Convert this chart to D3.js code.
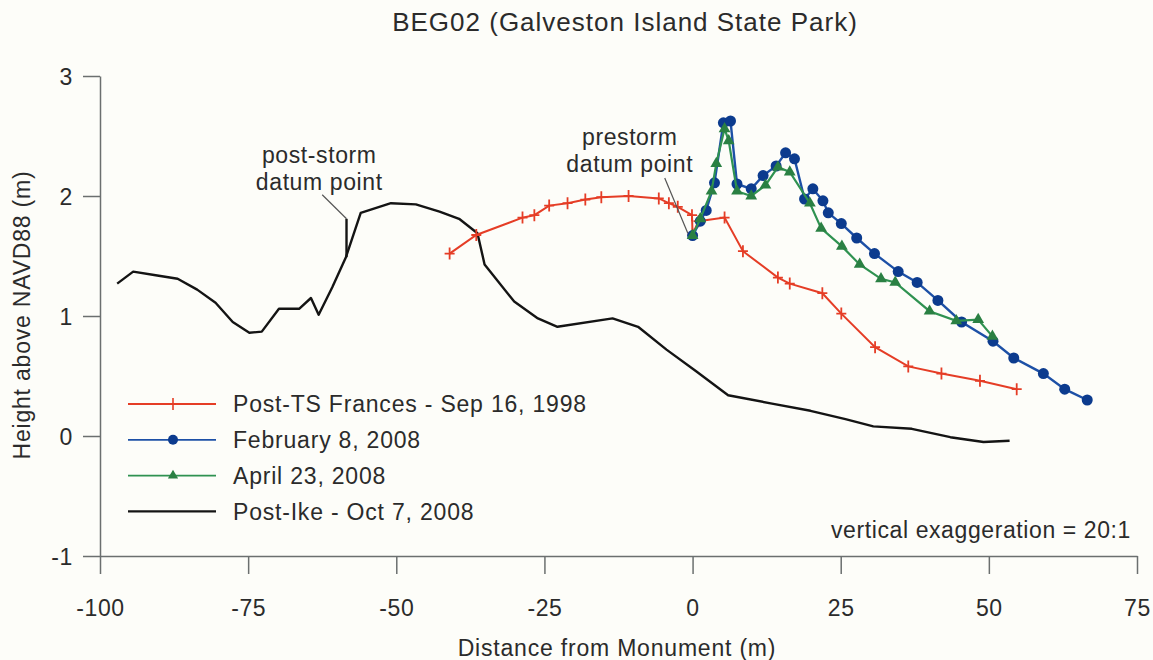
<!DOCTYPE html>
<html>
<head>
<meta charset="utf-8">
<script src="https://cdn.jsdelivr.net/npm/d3@7"></script>
<style>
  body { margin: 0; background: #fdfdf9; }
  svg text { font-family: "Liberation Sans", Arial, Helvetica, sans-serif; fill: #2b2b2b; }
</style>
</head>
<body>
<svg id="chart"></svg>
<script>
(function() {

// Post-TS Frances - Sep 16, 1998
const francesX = [-41.0, -36.5, -28.7, -26.7, -24.2, -21.1, -18.1, -15.4, -10.8, -5.7, -4.0, -2.5, -0.1, 0, 1.0, 5.4, 8.5, 14.4, 16.4, 21.9, 25.1, 30.8, 36.4, 42.0, 48.5, 54.7];
const francesY = [1.52, 1.675, 1.82, 1.84, 1.92, 1.94, 1.97, 1.99, 2.0, 1.98, 1.94, 1.91, 1.84, 1.68, 1.79, 1.82, 1.54, 1.32, 1.27, 1.19, 1.02, 0.74, 0.58, 0.52, 0.46, 0.39];

// February 8, 2008
const febX = [0, 1.3, 2.3, 3.7, 5.2, 6.4, 7.5, 9.9, 11.9, 14.1, 15.7, 17.2, 18.9, 20.3, 22.0, 22.9, 25.1, 27.7, 30.7, 34.7, 37.9, 41.4, 45.4, 50.7, 54.2, 59.2, 62.8, 66.6];
const febY = [1.67, 1.79, 1.88, 2.11, 2.61, 2.625, 2.10, 2.06, 2.17, 2.25, 2.36, 2.31, 1.975, 2.06, 1.96, 1.86, 1.77, 1.65, 1.52, 1.37, 1.28, 1.13, 0.95, 0.79, 0.65, 0.52, 0.39, 0.30];

// April 23, 2008
const aprX = [0, 1.3, 3.2, 4.0, 5.4, 6.1, 7.5, 9.9, 12.3, 14.4, 16.4, 19.8, 21.7, 25.2, 28.2, 31.8, 34.2, 40.0, 44.5, 48.2, 50.6];
const aprY = [1.67, 1.81, 2.04, 2.27, 2.56, 2.46, 2.04, 2.0, 2.09, 2.24, 2.20, 1.94, 1.73, 1.58, 1.43, 1.31, 1.28, 1.04, 0.96, 0.97, 0.83];

// Post-Ike - Oct 7, 2008
const ikeX = [-97.1, -94.4, -90.6, -86.9, -83.6, -80.5, -77.6, -74.8, -72.7, -69.8, -66.4, -64.4, -63.1, -60.8, -58.5, -56.0, -50.9, -46.7, -42.7, -39.4, -36.3, -35.1, -30.1, -26.1, -22.8, -13.5, -9.2, -4.4, 0.6, 6.0, 13.4, 19.9, 25.8, 30.5, 37.0, 43.5, 49.1, 53.5];
const ikeY = [1.27, 1.37, 1.34, 1.31, 1.22, 1.11, 0.95, 0.86, 0.87, 1.06, 1.06, 1.15, 1.01, 1.24, 1.49, 1.86, 1.94, 1.93, 1.87, 1.81, 1.69, 1.43, 1.12, 0.98, 0.91, 0.98, 0.91, 0.72, 0.54, 0.34, 0.27, 0.21, 0.14, 0.08, 0.06, -0.01, -0.05, -0.04];

const xMajorTicks = [-100, -75, -50, -25, 0, 25, 50, 75];
const xMinorTicks = [-87.5, -62.5, -37.5, -12.5, 12.5, 37.5, 62.5];
const yMajorTicks = [-1, 0, 1, 2, 3];
const yMinorTicks = [-0.5, 0.5, 1.5, 2.5];

const seriesNames = ["Post-TS Frances - Sep 16, 1998", "February 8, 2008", "April 23, 2008", "Post-Ike - Oct 7, 2008"];

const width = 1153, height = 660;
const svg = d3.select("#chart").attr("width", width).attr("height", height);

const x = d3.scaleLinear().domain([-100, 75]).range([100, 1137]);
const y = d3.scaleLinear().domain([-1, 3]).range([556, 76]);

const axisColor = "#6b6f6f";
const plainNum = d => String(d);   // hyphen minus like the original

// axes
const gx = svg.append("g").attr("transform", `translate(0,${y(-1)})`);
gx.call(d3.axisBottom(x).tickValues(xMinorTicks).tickSize(8).tickSizeOuter(0).tickFormat(""));
gx.call(d3.axisBottom(x).tickValues(xMajorTicks).tickSize(18).tickSizeOuter(0).tickPadding(26).tickFormat(plainNum));

const gy = svg.append("g").attr("transform", `translate(${x(-100)},0)`);
gy.call(d3.axisLeft(y).tickValues(yMinorTicks).tickSize(9).tickSizeOuter(0).tickFormat(""));
gy.call(d3.axisLeft(y).tickValues(yMajorTicks).tickSize(17).tickSizeOuter(0).tickPadding(10).tickFormat(plainNum));

[gx, gy].forEach(g => {
    g.selectAll("path, line").attr("stroke", axisColor).attr("stroke-width", 1.5);
    g.selectAll("text").attr("font-size", 23).attr("fill", "#2b2b2b")
        .attr("font-family", "Liberation Sans, Arial, sans-serif").style("letter-spacing", "0.6px");
});
gy.selectAll("text").attr("dy", "0.36em");

const line = d3.line().x(d => x(d[0])).y(d => y(d[1]));
const zip = (xs, ys) => xs.map((v, i) => [v, ys[i]]);

const frances = zip(francesX, francesY);
const feb = zip(febX, febY);
const apr = zip(aprX, aprY);
const ike = zip(ikeX, ikeY);

const red = "#e53d26", blue = "#1d50a6", blueDot = "#0c3b8e", green = "#2f9251", greenTri = "#2a8043", black = "#141414";

// post-ike
svg.append("path").datum(ike).attr("d", line).attr("fill", "none")
    .attr("stroke", black).attr("stroke-width", 2.4).attr("stroke-linejoin", "round");

// frances
svg.append("path").datum(frances).attr("d", line).attr("fill", "none")
    .attr("stroke", red).attr("stroke-width", 2);
svg.selectAll(".fr-mark").data(frances).join("path")
    .attr("class", "fr-mark")
    .attr("transform", d => `translate(${x(d[0])},${y(d[1])})`)
    .attr("d", "M-5,0H5M0,-6V6")
    .attr("stroke", red).attr("stroke-width", 1.8).attr("fill", "none");

// feb
svg.append("path").datum(feb).attr("d", line).attr("fill", "none")
    .attr("stroke", blue).attr("stroke-width", 2.4);
svg.selectAll(".feb-mark").data(feb).join("circle")
    .attr("class", "feb-mark")
    .attr("cx", d => x(d[0])).attr("cy", d => y(d[1])).attr("r", 5.5)
    .attr("fill", blueDot);

// april
svg.append("path").datum(apr).attr("d", line).attr("fill", "none")
    .attr("stroke", green).attr("stroke-width", 2.2);
const tri = d3.symbol().type(d3.symbolTriangle).size(60);
svg.selectAll(".apr-mark").data(apr).join("path")
    .attr("class", "apr-mark")
    .attr("transform", d => `translate(${x(d[0])},${y(d[1])})`)
    .attr("d", tri).attr("fill", greenTri);

// annotations: datum points
svg.append("line")
    .attr("x1", x(-58.4)).attr("y1", y(1.49)).attr("x2", x(-58.4)).attr("y2", y(1.81))
    .attr("stroke", black).attr("stroke-width", 2.4);
svg.append("line")
    .attr("x1", x(-62.5)).attr("y1", y(2.01)).attr("x2", x(-58.4)).attr("y2", y(1.81))
    .attr("stroke", "#555").attr("stroke-width", 1.2);
svg.append("line")
    .attr("x1", x(-4.7)).attr("y1", y(2.15)).attr("x2", x(-0.8)).attr("y2", y(1.69))
    .attr("stroke", "#555").attr("stroke-width", 1.2);

const note = (xv, lines, y0) => {
    const t = svg.append("text").attr("x", x(xv)).attr("y", y0)
        .attr("text-anchor", "middle").attr("font-size", 23).style("letter-spacing", "0.6px");
    lines.forEach((s, i) => t.append("tspan").attr("x", x(xv)).attr("dy", i ? 26.5 : 0).text(s));
};
note(-63, ["post-storm", "datum point"], 163);
note(-10.6, ["prestorm", "datum point"], 145);

// legend
const legend = svg.append("g").attr("transform", "translate(128,404)");
const rowGap = 35.8;
seriesNames.forEach((name, i) => {
    const g = legend.append("g").attr("transform", `translate(0,${i * rowGap})`);
    const col = [red, blue, green, black][i];
    g.append("line").attr("x1", 0).attr("x2", 88).attr("y1", 0).attr("y2", 0)
        .attr("stroke", col).attr("stroke-width", i === 3 ? 2.4 : 1.8);
    if (i === 0) g.append("path").attr("transform", "translate(45,0)").attr("d", "M0,-6V6")
        .attr("stroke", red).attr("stroke-width", 1.6);
    if (i === 1) g.append("circle").attr("cx", 45).attr("r", 5).attr("fill", blueDot);
    if (i === 2) g.append("path").attr("transform", "translate(45,0)").attr("d", d3.symbol().type(d3.symbolTriangle).size(45)).attr("fill", greenTri);
    g.append("text").attr("x", 105).attr("y", 0).attr("dy", "0.36em")
        .attr("font-size", 23).style("letter-spacing", "0.8px").text(name);
});

// titles
svg.append("text").attr("x", 625).attr("y", 31).attr("text-anchor", "middle")
    .attr("font-size", 26).style("letter-spacing", "1px").text("BEG02 (Galveston Island State Park)");
svg.append("text").attr("x", 617).attr("y", 656).attr("text-anchor", "middle")
    .attr("font-size", 23).style("letter-spacing", "0.8px").text("Distance from Monument (m)");
svg.append("text").attr("transform", "translate(30,315) rotate(-90)").attr("text-anchor", "middle")
    .attr("font-size", 23).style("letter-spacing", "0.8px").text("Height above NAVD88 (m)");
svg.append("text").attr("x", 1131).attr("y", 538).attr("text-anchor", "end")
    .attr("font-size", 23).style("letter-spacing", "0.6px").text("vertical exaggeration = 20:1");

})();
</script>
</body>
</html>
